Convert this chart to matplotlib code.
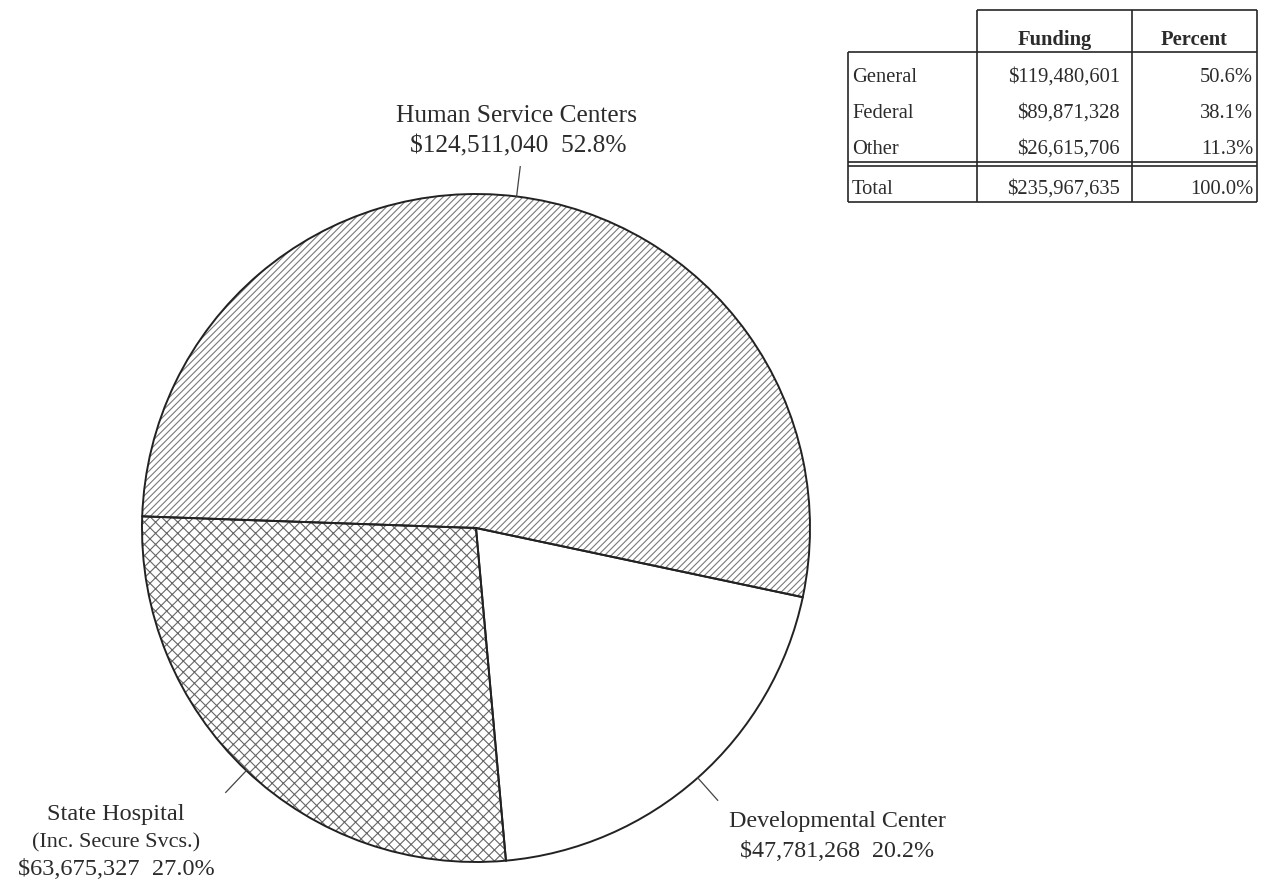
import matplotlib
matplotlib.use("Agg")
import matplotlib.pyplot as plt
import numpy as np

# ---- data ----
categories = ["Human Service Centers", "Developmental Center", "State Hospital"]
subtitles = ["", "", "(Inc. Secure Svcs.)"]
amounts = [124511040, 47781268, 63675327]
shares = ["52.8%", "20.2%", "27.0%"]
hatches = ["/////", "", "xxx"]

sources = ["General", "Federal", "Other"]
source_funding = [119480601, 89871328, 26615706]
source_percent = ["50.6%", "38.1%", "11.3%"]
total_label = "Total"
total_funding = 235967635
total_percent = "100.0%"
table_headers = ["Funding", "Percent"]

W, H = 1262, 886
TXT = "#2b2b2b"
SERIF = ["Liberation Serif", "DejaVu Serif"]
plt.rcParams["hatch.linewidth"] = 0.8

fig = plt.figure(figsize=(W / 100, H / 100), dpi=100)
ax = fig.add_axes([0, 0, 1, 1])

def Y(y):
    return H - y

cx, cy, R = 476, Y(528), 334
wedges, _ = ax.pie(amounts, startangle=178, counterclock=False,
                   center=(cx, cy), radius=R,
                   colors=["white"] * 3,
                   wedgeprops=dict(linewidth=0, edgecolor="#7a7a7a"))
for w, h in zip(wedges, hatches):
    w.set_hatch(h)
wedges[2].set_edgecolor("#666666")
wedges[2].set_linewidth(0)
ax.pie(amounts, startangle=178, counterclock=False, center=(cx, cy), radius=R,
       wedgeprops=dict(fill=False, linewidth=1.4, edgecolor="#222222"))

for w in wedges:
    mid = np.deg2rad((w.theta1 + w.theta2) / 2)
    x0, y0 = cx + R * np.cos(mid), cy + R * np.sin(mid)
    x1, y1 = cx + 1.09 * R * np.cos(mid), cy + 1.09 * R * np.sin(mid)
    ax.plot([x0, x1], [y0, y1], color="#444444", lw=0.9)

# pie labels
ax.text(517, Y(122), categories[0], ha="center", va="baseline", fontsize=18.3,
        family=SERIF, color=TXT)
ax.text(518, Y(152), f"${amounts[0]:,}  {shares[0]}", ha="center", va="baseline",
        fontsize=18.3, family=SERIF, color=TXT)

ax.text(837, Y(827), categories[1], ha="center", va="baseline", fontsize=17.3,
        family=SERIF, color=TXT)
ax.text(837, Y(857), f"${amounts[1]:,}  {shares[1]}", ha="center", va="baseline",
        fontsize=17.3, family=SERIF, color=TXT)

ax.text(116, Y(820), categories[2], ha="center", va="baseline", fontsize=17.5,
        family=SERIF, color=TXT)
ax.text(116, Y(847), subtitles[2], ha="center", va="baseline", fontsize=16,
        family=SERIF, color=TXT)
ax.text(116, Y(875), f"${amounts[2]:,}  {shares[2]}", ha="center", va="baseline",
        fontsize=17.5, family=SERIF, color=TXT)

# ---- table ----
LC = "#262626"
lw = 1.2
xl, xa, xb, xr = 848, 977, 1132, 1257
yt, yh, yd1, yd2, yb = 10, 52, 162, 165.5, 202
def hline(y, x0, x1):
    ax.plot([x0, x1], [Y(y), Y(y)], color=LC, lw=lw, solid_capstyle="butt")
def vline(x, y0, y1):
    ax.plot([x, x], [Y(y0), Y(y1)], color=LC, lw=lw, solid_capstyle="butt")
hline(yt, xa, xr)
hline(yh, xl, xr)
hline(yd1, xl, xr)
hline(yd2, xl, xr)
hline(yb, xl, xr)
vline(xl, yh, yb)
vline(xa, yt, yb)
vline(xb, yt, yb)
vline(xr, yt, yb)

tfs = 14.8
ax.text((xa + xb) / 2, Y(45), table_headers[0], ha="center", va="baseline",
        fontsize=tfs, fontweight="bold", family=SERIF, color=TXT)
ax.text((xb + xr) / 2, Y(45), table_headers[1], ha="center", va="baseline",
        fontsize=tfs, fontweight="bold", family=SERIF, color=TXT)
row_base = [82, 118, 154]
for yb_, s, f, p in zip(row_base, sources, source_funding, source_percent):
    ax.text(852, Y(yb_), s, ha="left", va="baseline", fontsize=tfs, family=SERIF, color=TXT)
    ax.text(1120, Y(yb_), f"${f:,}", ha="right", va="baseline", fontsize=tfs, family=SERIF, color=TXT)
    ax.text(1253, Y(yb_), p, ha="right", va="baseline", fontsize=tfs, family=SERIF, color=TXT)
ax.text(852, Y(194), total_label, ha="left", va="baseline", fontsize=tfs, family=SERIF, color=TXT)
ax.text(1120, Y(194), f"${total_funding:,}", ha="right", va="baseline", fontsize=tfs, family=SERIF, color=TXT)
ax.text(1253, Y(194), total_percent, ha="right", va="baseline", fontsize=tfs, family=SERIF, color=TXT)

ax.set_xlim(0, W)
ax.set_ylim(0, H)
ax.set_aspect("auto")
ax.axis("off")
fig.savefig("out.png", dpi=100, facecolor="white")
